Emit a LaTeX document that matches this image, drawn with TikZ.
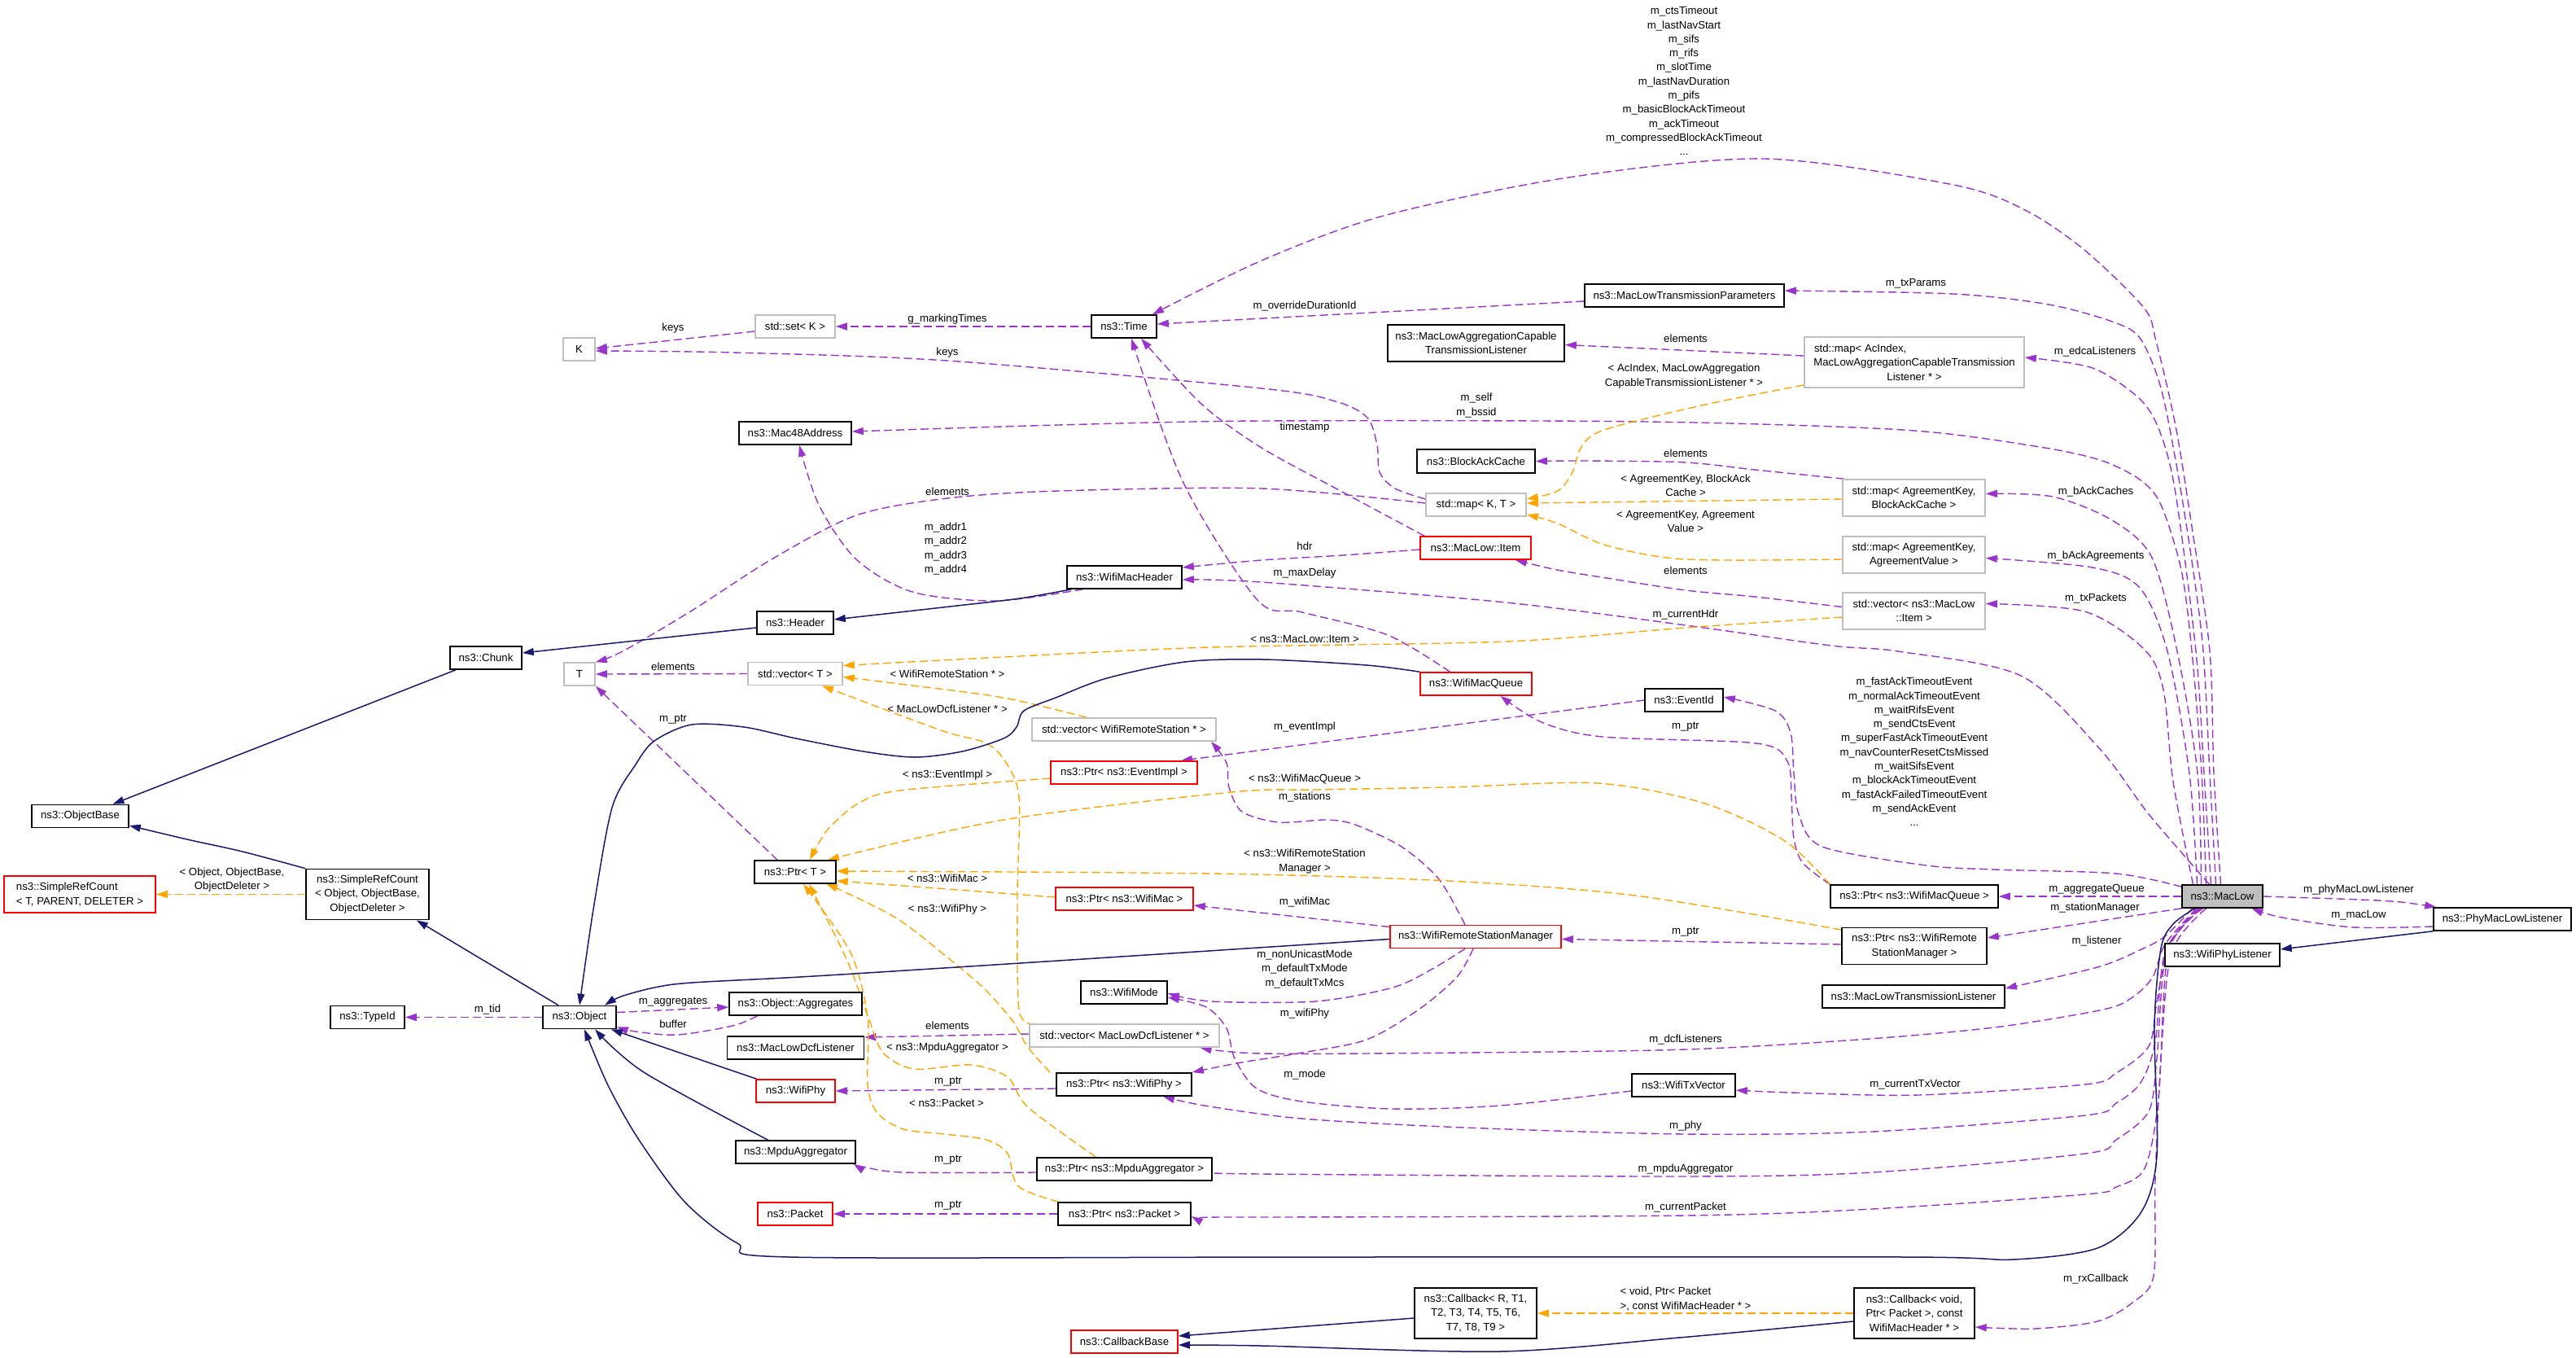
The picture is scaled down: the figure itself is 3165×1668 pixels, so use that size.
\documentclass[tikz,border=0pt]{standalone}
\usepackage{fontspec}
\setmainfont{Liberation Sans}
\usetikzlibrary{arrows.meta}
\pgfdeclarelayer{bg}
\pgfdeclarelayer{edges}
\pgfsetlayers{bg,edges,main}
\definecolor{purp}{HTML}{9A32CD}
\definecolor{orng}{HTML}{FFA500}
\definecolor{navyc}{HTML}{191970}
\definecolor{gry}{HTML}{BFBFBF}
\definecolor{redb}{HTML}{FF0000}
\tikzset{
  txt/.style={font=\fontsize{13.2}{17.3}\selectfont},
  box/.style={txt, draw=black, line width=1.6pt, inner sep=0pt, minimum height=28pt, align=center, fill=white},
  gbox/.style={box, draw=gry},
  rbox/.style={box, draw=redb},
  lbl/.style={txt, inner sep=0pt, align=center},
  atip/.style={-{Triangle[length=14pt,width=9pt]}},
  pu/.style={draw=purp, line width=1.4pt, dash pattern=on 10pt off 5pt, atip},
  po/.style={draw=orng, line width=1.4pt, dash pattern=on 10pt off 5pt, atip},
  nv/.style={draw=navyc, line width=1.5pt, atip},
}
\begin{document}
\begin{tikzpicture}[x=1pt,y=-1pt]
\begin{pgfonlayer}{bg}
\fill[white] (0,0) rectangle (3165,1668);
\end{pgfonlayer}
\useasboundingbox (0,0) rectangle (3165,1668);

% ---------------- nodes ----------------
\node[box, minimum width=99pt, fill=gry] (maclow) at (2730.5,1101) {ns3::MacLow};
\node[gbox, minimum width=98pt] (setk) at (977,401) {std::set< K >};
\node[gbox, minimum width=39pt] (K) at (711.5,429) {K};
\node[box, minimum width=80pt] (time) at (1381,401) {ns3::Time};
\node[box, minimum width=138pt] (mac48) at (977,532) {ns3::Mac48Address};
\node[box, minimum width=141pt] (wmh) at (1381.5,709) {ns3::WifiMacHeader};
\node[box, minimum width=94pt] (header) at (977,765) {ns3::Header};
\node[box, minimum width=245pt] (mltp) at (2069.5,363) {ns3::MacLowTransmissionParameters};
\node[box, minimum width=217pt, minimum height=45pt] (mlacl) at (1813.5,421.5) {ns3::MacLowAggregationCapable\\TransmissionListener};
\node[gbox, minimum width=270pt, minimum height=62pt] (mapac) at (2352,445) {\makebox[246pt][l]{std::map< AcIndex,}\\MacLowAggregationCapableTransmission\\Listener * >};
\node[box, minimum width=145pt, minimum height=29pt] (bac) at (1813.5,566.5) {ns3::BlockAckCache};
\node[gbox, minimum width=123pt] (mapkt) at (1813.5,620) {std::map< K, T >};
\node[gbox, minimum width=175pt, minimum height=45pt] (mapbac) at (2351.5,611.5) {std::map< AgreementKey,\\BlockAckCache >};
\node[gbox, minimum width=175pt, minimum height=45pt] (mapav) at (2351.5,681.5) {std::map< AgreementKey,\\AgreementValue >};
\node[gbox, minimum width=175pt, minimum height=45pt] (vecitem) at (2351.5,750.5) {std::vector< ns3::MacLow\\::Item >};
\node[rbox, minimum width=136pt] (item) at (1813,673) {ns3::MacLow::Item};
\node[box, minimum width=88pt] (chunk) at (597,808) {ns3::Chunk};
\node[gbox, minimum width=38pt] (T) at (712,828) {T};
\node[box, minimum width=119pt] (objbase) at (98.5,1002.5) {ns3::ObjectBase};
\node[rbox, minimum width=186pt, minimum height=45pt, align=left] (srct) at (98,1098.5) {ns3::SimpleRefCount\\< T, PARENT, DELETER >};
\node[box, minimum width=151pt, minimum height=62pt] (srcobj) at (451.5,1098.5) {ns3::SimpleRefCount\\< Object, ObjectBase,\\ObjectDeleter >};
\node[box, minimum width=91pt] (typeid) at (451.5,1249.5) {ns3::TypeId};
\node[box, minimum width=90pt] (object) at (712,1249.5) {ns3::Object};
\node[gbox, minimum width=116pt] (vect) at (977,827.5) {std::vector< T >};
\node[rbox, minimum width=137pt] (wmq) at (1813.5,840) {ns3::WifiMacQueue};
\node[gbox, minimum width=226pt] (vecwrs) at (1381,896) {std::vector< WifiRemoteStation * >};
\node[rbox, minimum width=180pt] (ptrevent) at (1381,949) {ns3::Ptr< ns3::EventImpl >};
\node[box, minimum width=100pt] (ptrt) at (977,1071) {ns3::Ptr< T >};
\node[rbox, minimum width=169pt] (ptrwifimac) at (1381.5,1104) {ns3::Ptr< ns3::WifiMac >};
\node[rbox, minimum width=210pt] (wrsm) at (1813,1150.5) {ns3::WifiRemoteStationManager};
\node[box, minimum width=106pt] (wifimode) at (1381,1219) {ns3::WifiMode};
\node[box, minimum width=163pt] (aggregates) at (977.5,1233) {ns3::Object::Aggregates};
\node[box, minimum width=168pt] (dcfl) at (977.5,1287) {ns3::MacLowDcfListener};
\node[gbox, minimum width=233pt] (vecdcf) at (1381.5,1272) {std::vector< MacLowDcfListener * >};
\node[rbox, minimum width=97pt] (wifiphy) at (977.5,1340) {ns3::WifiPhy};
\node[box, minimum width=166pt] (ptrwifiphy) at (1381,1332) {ns3::Ptr< ns3::WifiPhy >};
\node[box, minimum width=147pt] (mpdu) at (977.5,1415) {ns3::MpduAggregator};
\node[box, minimum width=215pt] (ptrmpdu) at (1381.5,1436) {ns3::Ptr< ns3::MpduAggregator >};
\node[rbox, minimum width=92pt] (packet) at (977,1491) {ns3::Packet};
\node[box, minimum width=163pt] (ptrpacket) at (1381.5,1491) {ns3::Ptr< ns3::Packet >};
\node[rbox, minimum width=131pt] (cbbase) at (1381.5,1648) {ns3::CallbackBase};
\node[box, minimum width=96pt] (eventid) at (2069,860) {ns3::EventId};
\node[box, minimum width=127pt] (wifitxvec) at (2068.5,1333) {ns3::WifiTxVector};
\node[box, minimum width=206pt] (ptrwmq) at (2352,1101) {ns3::Ptr< ns3::WifiMacQueue >};
\node[box, minimum width=178pt, minimum height=45pt] (ptrwrsm) at (2352,1162) {ns3::Ptr< ns3::WifiRemote\\StationManager >};
\node[box, minimum width=224pt] (mltl) at (2351,1224) {ns3::MacLowTransmissionListener};
\node[box, minimum width=148pt, minimum height=62pt] (cbvoid) at (2352,1613) {ns3::Callback< void,\\Ptr< Packet >, const\\WifiMacHeader * >};
\node[box, minimum width=150pt, minimum height=62pt] (cbr) at (1813,1613) {ns3::Callback< R, T1,\\T2, T3, T4, T5, T6,\\T7, T8, T9 >};
\node[box, minimum width=141pt] (wpl) at (2730.5,1173) {ns3::WifiPhyListener};
\node[box, minimum width=169pt] (pmll) at (3074.5,1129) {ns3::PhyMacLowListener};

% ---------------- labels ----------------
\node[lbl] (l01) at (827,403) {keys};
\node[lbl] (l02) at (1164,392) {g\_markingTimes};
\node[lbl] (l03) at (1164,433) {keys};
\node[lbl] (l04) at (1164,604) {elements};
\node[lbl] (l05) at (1162,674) {m\_addr1\\m\_addr2\\m\_addr3\\m\_addr4};
\node[lbl] (l06) at (1603,376) {m\_overrideDurationId};
\node[lbl] (l07) at (2354,348) {m\_txParams};
\node[lbl] (l08) at (2071,416) {elements};
\node[lbl] (l09) at (2069,462) {< AcIndex, MacLowAggregation\\CapableTransmissionListener * >};
\node[lbl] (l10) at (1814,498) {m\_self\\m\_bssid};
\node[lbl] (l11) at (1603,525) {timestamp};
\node[lbl] (l12) at (2071,557) {elements};
\node[lbl] (l13) at (2071,596) {< AgreementKey, BlockAck\\Cache >};
\node[lbl] (l14) at (2071,640.5) {< AgreementKey, Agreement\\Value >};
\node[lbl] (l15) at (1603,671) {hdr};
\node[lbl] (l16) at (1603,704) {m\_maxDelay};
\node[lbl] (l17) at (2071,701) {elements};
\node[lbl] (l18) at (2071,755) {m\_currentHdr};
\node[lbl] (l19) at (1603,785) {< ns3::MacLow::Item >};
\node[lbl] (l20) at (2574,432) {m\_edcaListeners};
\node[lbl] (l21) at (2575,604) {m\_bAckCaches};
\node[lbl] (l22) at (2575,683) {m\_bAckAgreements};
\node[lbl] (l23) at (2575,735) {m\_txPackets};
\node[lbl] (l24) at (2069,99.5) {m\_ctsTimeout\\m\_lastNavStart\\m\_sifs\\m\_rifs\\m\_slotTime\\m\_lastNavDuration\\m\_pifs\\m\_basicBlockAckTimeout\\m\_ackTimeout\\m\_compressedBlockAckTimeout\\...};
\node[lbl] (l25) at (827,819) {elements};
\node[lbl] (l26) at (827,884) {m\_ptr};
\node[lbl] (l27) at (1164,828) {< WifiRemoteStation * >};
\node[lbl] (l28) at (1164,871) {< MacLowDcfListener * >};
\node[lbl] (l29) at (1603,893) {m\_eventImpl};
\node[lbl] (l30) at (2071,893) {m\_ptr};
\node[lbl] (l31) at (1164,952) {< ns3::EventImpl >};
\node[lbl] (l32) at (1603,957) {< ns3::WifiMacQueue >};
\node[lbl] (l33) at (1603,979) {m\_stations};
\node[lbl] (l34) at (1603,1058) {< ns3::WifiRemoteStation\\Manager >};
\node[lbl] (l35) at (1164,1079) {< ns3::WifiMac >};
\node[lbl] (l36) at (1603,1108) {m\_wifiMac};
\node[lbl] (l37) at (1164,1117) {< ns3::WifiPhy >};
\node[lbl] (l38) at (2352,923.5) {m\_fastAckTimeoutEvent\\m\_normalAckTimeoutEvent\\m\_waitRifsEvent\\m\_sendCtsEvent\\m\_superFastAckTimeoutEvent\\m\_navCounterResetCtsMissed\\m\_waitSifsEvent\\m\_blockAckTimeoutEvent\\m\_fastAckFailedTimeoutEvent\\m\_sendAckEvent\\...};
\node[lbl] (l39) at (2576,1092) {m\_aggregateQueue};
\node[lbl] (l40) at (2574,1115) {m\_stationManager};
\node[lbl] (l41) at (2576,1156) {m\_listener};
\node[lbl] (l42) at (2898,1093) {m\_phyMacLowListener};
\node[lbl] (l43) at (2898,1124) {m\_macLow};
\node[lbl] (l44) at (2071,1145) {m\_ptr};
\node[lbl] (l45) at (1603,1190.5) {m\_nonUnicastMode\\m\_defaultTxMode\\m\_defaultTxMcs};
\node[lbl] (l46) at (1603,1245) {m\_wifiPhy};
\node[lbl] (l47) at (1164,1260) {elements};
\node[lbl] (l48) at (1164,1287) {< ns3::MpduAggregator >};
\node[lbl] (l49) at (2071,1277) {m\_dcfListeners};
\node[lbl] (l50) at (1603,1320) {m\_mode};
\node[lbl] (l51) at (1165,1329) {m\_ptr};
\node[lbl] (l52) at (2353,1332) {m\_currentTxVector};
\node[lbl] (l53) at (1163,1355) {< ns3::Packet >};
\node[lbl] (l54) at (2071,1383) {m\_phy};
\node[lbl] (l55) at (1165,1425) {m\_ptr};
\node[lbl] (l56) at (2071,1436) {m\_mpduAggregator};
\node[lbl] (l57) at (1165,1481) {m\_ptr};
\node[lbl] (l58) at (2071,1483) {m\_currentPacket};
\node[lbl] (l59) at (2575,1571) {m\_rxCallback};
\node[lbl, align=left] (l60) at (2071,1595.5) {< void, Ptr< Packet\\>, const WifiMacHeader * >};
\node[lbl] (l61) at (285,1080.5) {< Object, ObjectBase,\\ObjectDeleter >};
\node[lbl] (l62) at (599,1240) {m\_tid};
\node[lbl] (l63) at (827,1231) {m\_aggregates};
\node[lbl] (l64) at (827,1258) {buffer};

% ---------------- edges ----------------
\begin{pgfonlayer}{edges}
% purple usage edges
\draw[pu] ([yshift=-6]setk.west) -- ([yshift=1]K.east);
\draw[pu] (time.west) -- (setk.east);
\draw[pu] plot[smooth] coordinates {([yshift=7]mapkt.west) (1714,600) (1695,580) (1692,547) (1680,513) (1641,493) (1550,477) (1164,443) (900,433) ([yshift=-2]K.east)};
\draw[pu] plot[smooth] coordinates {([yshift=2]mapkt.west) (1550,600) (1300,603) (1164,612) (1052,633) (948,687) (850,750) (765,800) (T.north east)};
\draw[pu] plot[smooth] coordinates {([xshift=-20]maclow.north) (2705,950) (2693,800) (2680,700) (2655,620) (2629,589) (2580,565) (2500,548) (2338,528) (2023,518) (1550,517) (1300,522) ([yshift=2]mac48.east)};
\draw[pu] plot[smooth] coordinates {([xshift=-51]wmh.south) (1224,738) (1121,727) (1052,687) (1006,620) ([xshift=5]mac48.south)};
\draw[pu] ([yshift=-7]mltp.west) -- ([yshift=3]time.east);
\draw[pu] plot[smooth] coordinates {([xshift=-8]maclow.north) (2715,950) (2707,800) (2693,689) (2673,565) (2654,473) (2629,415) (2595,395) (2517,374) (2400,361) ([yshift=6]mltp.east)};
\draw[pu] plot[smooth] coordinates {([xshift=-2]maclow.north) (2720,950) (2715,800) (2693,647) (2673,523) (2649,419) (2634,378) (2561,307) (2488,258) (2400,227) (2168,195) (1927,218) (1700,265) (1550,320) ([xshift=35]time.north)};
\draw[pu] ([yshift=8]mapac.west) -- ([yshift=-2]mlacl.east);
\draw[pu] plot[smooth] coordinates {([xshift=-14]maclow.north) (2708,950) (2698,800) (2673,606) (2654,531) (2629,490) (2571,452) ([yshift=6]mapac.east)};
\draw[pu] plot[smooth] coordinates {([xshift=-86]mapbac.north) (2156,577) (2071,568) (1950,566) (bac.east)};
\draw[pu] plot[smooth] coordinates {([xshift=-26]maclow.north) (2700,950) (2675,800) (2644,685) (2595,639) (2522,610) ([yshift=5]mapbac.east)};
\draw[pu] plot[smooth] coordinates {([xshift=-31]maclow.north) (2690,950) (2663,800) (2629,722) (2571,697) ([yshift=-4]mapav.east)};
\draw[pu] plot[smooth] coordinates {([xshift=-36]maclow.north) (2670,960) (2658,847) (2634,797) (2561,751) ([yshift=9]vecitem.east)};
\draw[pu] plot[smooth] coordinates {([yshift=5]vecitem.west) (2156,733) (2071,725) (1974,710) (1913,700) ([xshift=-20]item.south east)};
\draw[pu] plot[smooth] coordinates {([yshift=-2]item.west) (1650,682) (1550,688) ([yshift=12]wmh.east)};
\draw[pu] plot[smooth] coordinates {([xshift=-63]item.north) (1647,603) (1550,550) (1477,497) ([xshift=21]time.south)};
\draw[pu] plot[smooth] coordinates {([xshift=-16]maclow.north) (2640,1000) (2580,920) (2483,830) (2332,800) (2250,793) (2071,768) (1850,740) (1550,715) ([yshift=-3]wmh.east)};
\draw[pu] plot[smooth] coordinates {([xshift=-32]wmq.north) (1705,780) (1600,752) (1545,737) (1454,593) ([xshift=9]time.south)};
\draw[pu] ([xshift=-22]ptrt.north) -- (T.south east);
\draw[pu] (vect.west) -- (T.east);
\draw[pu] (eventid.west) -- ([xshift=70]ptrevent.north);
\draw[pu] plot[smooth] coordinates {([yshift=-3]maclow.north west) (2600,1073) (2450,1068) (2367,1063) (2239,1040) (2210,1000) (2204,950) (2200,900) (2181,873) ([yshift=4]eventid.east)};
\draw[pu] plot[smooth] coordinates {(ptrwmq.north west) (2215,1060) (2204,1030) (2201,980) (2196,935) (2158,913) (1969,905) (1894,887) ([xshift=30]wmq.south)};
\draw[pu] (maclow.west) -- (ptrwmq.east);
\draw[pu] (maclow.south west) -- ([yshift=10]ptrwrsm.east);
\draw[pu] ([yshift=2]ptrwrsm.west) -- ([yshift=-3]wrsm.east);
\draw[pu] plot[smooth] coordinates {([xshift=-13]wrsm.north) (1768,1080) (1722,1040) (1665,1013) (1630,1007) (1571,1010) (1526,997) (1510,967) (1507,937) ([xshift=107]vecwrs.south)};
\draw[pu] ([yshift=12]wrsm.west) -- ([yshift=-8]ptrwifimac.east);
\draw[pu] plot[smooth] coordinates {([xshift=-13]wrsm.south) (1760,1190) (1711,1213) (1616,1230) (1488,1230) ([yshift=-1]wifimode.east)};
\draw[pu] plot[smooth] coordinates {([xshift=-3]wrsm.south) (1790,1200) (1743,1240) (1679,1277) (1600,1293) (1525,1305) ([yshift=15]ptrwifiphy.east)};
\draw[pu] plot[smooth] coordinates {([yshift=-7]wifitxvec.west) (1843,1358) (1711,1362) (1600,1353) (1544,1337) (1517,1300) (1507,1263) (1482,1237) ([yshift=-6]wifimode.east)};
\draw[pu] (object.west) -- (typeid.east);
\draw[pu] ([yshift=6]object.east) -- ([yshift=-4]aggregates.west);
\draw[pu] plot[smooth] coordinates {([xshift=-47]aggregates.south) (900,1260) (832,1271) (781,1267) ([yshift=3]object.south east)};
\draw[pu] ([yshift=2]vecdcf.west) -- ([yshift=13]dcfl.east);
\draw[pu] plot[smooth] coordinates {([xshift=-32]maclow.south) (2660,1160) (2645,1200) (2620,1225) (2584,1240) (2450,1262) (2283,1277) (2071,1289) (1800,1293) (1550,1294) ([xshift=93]vecdcf.south)};
\draw[pu] ([yshift=-5]ptrwifiphy.west) -- (wifiphy.east);
\draw[pu] plot[smooth] coordinates {([xshift=-28]maclow.south) (2660,1170) (2648,1280) (2630,1330) (2600,1355) (2562,1370) (2300,1390) (2071,1393) (1800,1385) (1600,1374) (1480,1358) ([xshift=48]ptrwifiphy.south)};
\draw[pu] plot[smooth] coordinates {([yshift=-4]ptrmpdu.west) (1110,1440) (1060,1433) ([xshift=-3]mpdu.south east)};
\draw[pu] plot[smooth] coordinates {([xshift=-26]maclow.south) (2662,1170) (2650,1300) (2640,1365) (2600,1400) (2562,1417) (2300,1440) (2071,1445) (1550,1442) ([yshift=-4]ptrmpdu.east)};
\draw[pu] (ptrpacket.west) -- (packet.east);
\draw[pu] plot[smooth] coordinates {([xshift=-24]maclow.south) (2664,1170) (2652,1350) (2635,1435) (2600,1458) (2562,1467) (2300,1485) (2071,1493) (1550,1495) ([yshift=-3]ptrpacket.east)};
\draw[pu] plot[smooth] coordinates {([xshift=-37]maclow.south) (2660,1150) (2629,1167) (2577,1188) ([yshift=10]mltl.east)};
\draw[pu] plot[smooth] coordinates {([xshift=-30]maclow.south) (2665,1160) (2650,1230) (2640,1285) (2600,1318) (2562,1332) (2357,1345) (2200,1342) ([yshift=-6]wifitxvec.east)};
\draw[pu] plot[smooth] coordinates {(maclow.east) (2900,1105) (2950,1108) ([xshift=4]pmll.north west)};
\draw[pu] plot[smooth] coordinates {([yshift=-9]pmll.west) (2892,1139) (2804,1127) ([xshift=36]maclow.south)};
\draw[pu] plot[smooth] coordinates {([xshift=-20]maclow.south) (2668,1170) (2655,1300) (2648,1450) (2646,1567) (2620,1600) (2577,1623) (2500,1632) ([yshift=-17]cbvoid.east)};

% orange template edges
\draw[po] plot[smooth] coordinates {([yshift=-28]mapac.west) (2095,497) (1974,527) (1944,547) (1932,580) (1914,603) ([yshift=7]mapkt.east)};
\draw[po] ([yshift=-1.5]mapbac.west) -- ([yshift=2]mapkt.east);
\draw[po] plot[smooth] coordinates {([yshift=-5.5]mapav.west) (2071,687) (1974,670) (1914,643) ([yshift=-12]mapkt.east)};
\draw[po] plot[smooth] coordinates {([yshift=-7.5]vecitem.west) (2071,771) (1850,788) (1488,795) (1233,807) ([yshift=10]vect.east)};
\draw[po] plot[smooth] coordinates {([xshift=-46]vecwrs.north) (1233,857) (1105,840) ([yshift=-4]vect.east)};
\draw[po] plot[smooth] coordinates {([xshift=-110]vecdcf.north) (1252,1240) (1250,1100) (1252,980) (1235,935) (1210,912) (1156,897) ([xshift=33]vect.south)};
\draw[po] plot[smooth] coordinates {([yshift=-7]ptrevent.west) (1105,971) (1054,987) (1016,1020) ([xshift=18]ptrt.north)};
\draw[po] plot[smooth] coordinates {(ptrwmq.north west) (2193,1033) (2095,987) (1963,962) (1780,967) (1616,970) (1513,973) (1233,1007) ([xshift=40]ptrt.north)};
\draw[po] plot[smooth] coordinates {([yshift=20]ptrwrsm.west) (2009,1100) (1780,1082) (1488,1073) ([yshift=1]ptrt.east)};
\draw[po] plot[smooth] coordinates {([yshift=2]ptrwifimac.west) (1137,1090) ([yshift=-11]ptrt.east)};
\draw[po] plot[smooth] coordinates {([xshift=-91]ptrwifiphy.north) (1262,1285) (1245,1255) (1210,1215) (1169,1180) (1105,1130) (1041,1097) ([xshift=38]ptrt.south)};
\draw[po] plot[smooth] coordinates {([xshift=-35]ptrmpdu.north) (1263,1360) (1238,1323) (1193,1308) (1123,1313) (1085,1293) (1067,1250) (1041,1180) ([xshift=17]ptrt.south)};
\draw[po] plot[smooth] coordinates {([xshift=-81]ptrpacket.north) (1251,1457) (1238,1417) (1212,1400) (1161,1393) (1110,1387) (1078,1367) (1066,1333) (1066,1250) (1045,1170) ([xshift=10]ptrt.south)};
\draw[po] (srcobj.west) -- (srct.east);
\draw[po] (cbvoid.west) -- (cbr.east);

% navy inheritance edges
\draw[nv] plot[smooth] coordinates {([xshift=-65]wmh.south) (1253,735) (1167,745) ([yshift=4]header.east)};
\draw[nv] ([yshift=-6]header.west) -- ([yshift=6]chunk.east);
\draw[nv] ([xshift=-37]chunk.south) -- ([xshift=40]objbase.north);
\draw[nv] plot[smooth] coordinates {(srcobj.north west) (298,1046) (230,1031) ([yshift=-11.5]objbase.east)};
\draw[nv] ([xshift=-26]object.north) -- ([xshift=-16]srcobj.south east);
\draw[nv] plot[smooth] coordinates {(wmq.north west) (1679,817) (1552,810) (1456,813) (1360,833) (1297,857) (1258,873) (1249,893) (1233,907) (1182,923) (1124,930) (1061,923) (978,907) (914,893) (850,890) (804,910) (781,939) (752,992) (729,1117) (object.north)};
\draw[nv] plot[smooth] coordinates {([yshift=-3]wrsm.west) (1300,1180) (1000,1199) (850,1207) (804,1213) (763,1224) ([xshift=31]object.north)};
\draw[nv] ([xshift=-48]wifiphy.north) -- ([xshift=-7]object.south east);
\draw[nv] plot[smooth] coordinates {([xshift=-34]mpdu.north) (791,1317) ([xshift=19]object.south)};
\draw[nv] plot[smooth] coordinates {([xshift=-34]maclow.south) (2670,1135) (2655,1165) (2647,1260) (2650,1420) (2630,1490) (2577,1533) (2474,1547) (2342,1544) (1600,1544) (970,1544) (906,1527) (842,1477) (785,1400) (747,1333) ([xshift=6]object.south)};
\draw[nv] (pmll.south west) -- ([yshift=7]wpl.east);
\draw[nv] ([yshift=-6]cbr.west) -- ([yshift=7]cbbase.east);
\draw[nv] plot[smooth] coordinates {([yshift=-10]cbvoid.west) (2063,1643) (1843,1660) (1550,1653) ([yshift=-4]cbbase.east)};
\end{pgfonlayer}
\end{tikzpicture}
\end{document}
